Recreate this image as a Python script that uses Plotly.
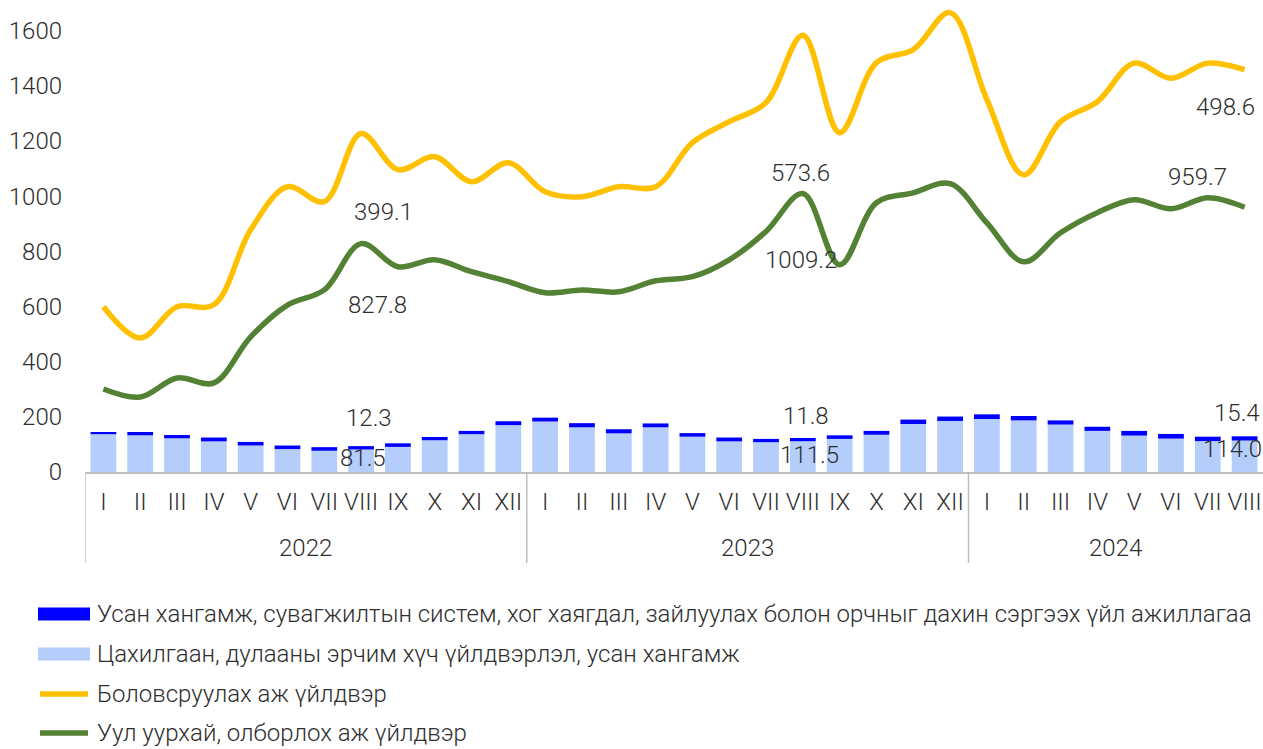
import numpy as np
import plotly.graph_objects as go

# Month / year categories
month_names = ["I", "II", "III", "IV", "V", "VI", "VII", "VIII", "IX", "X", "XI", "XII"]
months = month_names * 2 + month_names[:8]
years = ["2022"] * 12 + ["2023"] * 12 + ["2024"] * 8

# Electricity, heat production and water supply (bar, bottom)
electricity = [137, 133, 122, 111, 96, 83, 77, 81.5, 91, 115, 137, 170,
               183, 162, 140, 162, 128, 111, 108, 111.5, 120, 135, 174, 185,
               192, 187, 172, 149, 132, 121, 112, 114.0]
# Water supply, sewerage, waste management (bar, top)
water = [8, 12, 12, 14, 13, 13, 13, 12.3, 13, 12, 12, 14,
         14, 15, 15, 14, 13, 14, 12, 11.8, 13, 14, 16, 16,
         17, 16, 15, 15, 17, 17, 16, 15.4]
# Mining and quarrying (line)
mining = [301, 272, 341, 323, 490, 605, 660, 827.8, 744, 769, 726, 690,
          650, 660, 653, 693, 708, 769, 872, 1009.2, 751, 976, 1012, 1045,
          903, 762, 867, 940, 987, 954, 994, 959.7]
# Manufacturing (line, stacked on mining)
manufacturing = [298, 214, 258, 283, 388, 429, 320, 399.1, 352, 374, 326, 431,
                 366, 338, 381, 341, 486, 501, 467, 573.6, 479, 508, 519, 620,
                 447, 315, 403, 402, 495, 473, 488, 498.6]

series_names = [
    "Усан хангамж, сувагжилтын систем, хог хаягдал, зайлуулах болон орчныг дахин сэргээх үйл ажиллагаа",
    "Цахилгаан, дулааны эрчим хүч үйлдвэрлэл, усан хангамж",
    "Боловсруулах аж үйлдвэр",
    "Уул уурхай, олборлох аж үйлдвэр",
]

C_WATER = "#0000FF"
C_ELEC = "#B5CDFB"
C_MANUF = "#FFC000"
C_MINING = "#548235"
C_AXIS = "#BFBFBF"
TEXT = "#2E2E2E"
FONT = "Roboto"
FS = 24
FW = 300

def tfont(size=FS):
    return dict(family=FONT, size=size, color=TEXT, weight=FW)


n = len(months)
xi = np.arange(n)
mining_arr = np.array(mining, dtype=float)
manuf_top = mining_arr + np.array(manufacturing, dtype=float)
bar_top = np.array(electricity, dtype=float) + np.array(water, dtype=float)

fig = go.Figure()
fig.add_trace(go.Bar(x=xi, y=electricity, name=series_names[1],
                     marker=dict(color=C_ELEC, line=dict(width=0)), showlegend=False))
fig.add_trace(go.Bar(x=xi, y=water, name=series_names[0],
                     marker=dict(color=C_WATER, line=dict(width=0)), showlegend=False))
fig.add_trace(go.Scatter(x=xi, y=manuf_top, name=series_names[2], mode="lines",
                         line=dict(color=C_MANUF, width=5.5, shape="spline", smoothing=1.0),
                         showlegend=False))
fig.add_trace(go.Scatter(x=xi, y=mining_arr, name=series_names[3], mode="lines",
                         line=dict(color=C_MINING, width=5.5, shape="spline", smoothing=1.0),
                         showlegend=False))

W, H = 1263, 749
L, R, T, B = 85, 0, 3, 277
PW, PH = W - L - R, H - T - B


def px_x(p):
    return (p - L) / PW


def px_y(p):
    return (H - B - p) / PH


annotations = []
shapes = []

# Value labels for August of each year
def label(idx, value, anchor, dx, dy):
    annotations.append(dict(
        x=idx, y=anchor, xref="x", yref="y", text=f"{value:.1f}", showarrow=False,
        xshift=dx, yshift=dy, xanchor="center", yanchor="middle", font=tfont()))


label_offsets = {
    7: dict(manuf=(22, -78.5), mining=(16, -61.4), water=(8, 28), elec=(2, -8.5)),
    19: dict(manuf=(-2, -137.7), mining=(-2, -66.4), water=(3, 22), elec=(7, -13.8)),
    31: dict(manuf=(-19.5, -37.3), mining=(-47.5, 30.2), water=(-7.5, 23.3), elec=(-12.5, -8.5)),
}
for i, off in label_offsets.items():
    label(i, manufacturing[i], manuf_top[i], *off["manuf"])
    label(i, mining[i], mining[i], *off["mining"])
    label(i, water[i], bar_top[i], *off["water"])
    label(i, electricity[i], electricity[i], *off["elec"])

# Year group labels and dividers under the month labels
groups = []
for i, yr in enumerate(years):
    if not groups or groups[-1][0] != yr:
        groups.append([yr, i, i])
    else:
        groups[-1][2] = i
for yr, first, last in groups:
    annotations.append(dict(x=(first + last) / 2, y=px_y(548), xref="x", yref="paper",
                            text=yr, showarrow=False, xanchor="center", yanchor="middle",
                            font=tfont()))
    shapes.append(dict(type="line", xref="x", yref="paper", x0=first - 0.5, x1=first - 0.5,
                       y0=px_y(472), y1=px_y(563), line=dict(color=C_AXIS, width=1.5)))

# Legend drawn below the chart
legend_rows = [(614, "bar", C_WATER), (654, "bar", C_ELEC), (694, "line", C_MANUF), (733, "line", C_MINING)]
for (yc, kind, color), name in zip(legend_rows, series_names):
    if kind == "bar":
        shapes.append(dict(type="rect", xref="paper", yref="paper",
                           x0=px_x(38), x1=px_x(90), y0=px_y(yc - 6.5), y1=px_y(yc + 6.5),
                           fillcolor=color, line=dict(width=0)))
    else:
        shapes.append(dict(type="line", xref="paper", yref="paper",
                           x0=px_x(40), x1=px_x(88), y0=px_y(yc), y1=px_y(yc),
                           line=dict(color=color, width=5.5)))
    annotations.append(dict(x=px_x(95), y=px_y(yc), xref="paper", yref="paper",
                            text=name, showarrow=False, xanchor="left", yanchor="middle",
                            font=tfont()))

fig.update_layout(
    width=W, height=H,
    margin=dict(l=L, r=R, t=T, b=B, pad=0),
    paper_bgcolor="white", plot_bgcolor="white",
    barmode="relative", bargap=0.3,
    font=tfont(),
    showlegend=False,
    annotations=annotations,
    shapes=shapes,
    xaxis=dict(range=[-0.5, n - 0.5], tickmode="array", tickvals=xi.tolist(), ticktext=months,
               showline=True, linecolor=C_AXIS, linewidth=1.5, ticks="", tickangle=0,
               showgrid=False, zeroline=False, ticklabelstandoff=7, tickfont=tfont()),
    yaxis=dict(range=[0, 1700], tickvals=list(range(0, 1601, 200)), showgrid=False,
               zeroline=False, showline=False, ticks="", ticklabelstandoff=22,
               tickfont=tfont()),
)

fig.write_html("out.html")
